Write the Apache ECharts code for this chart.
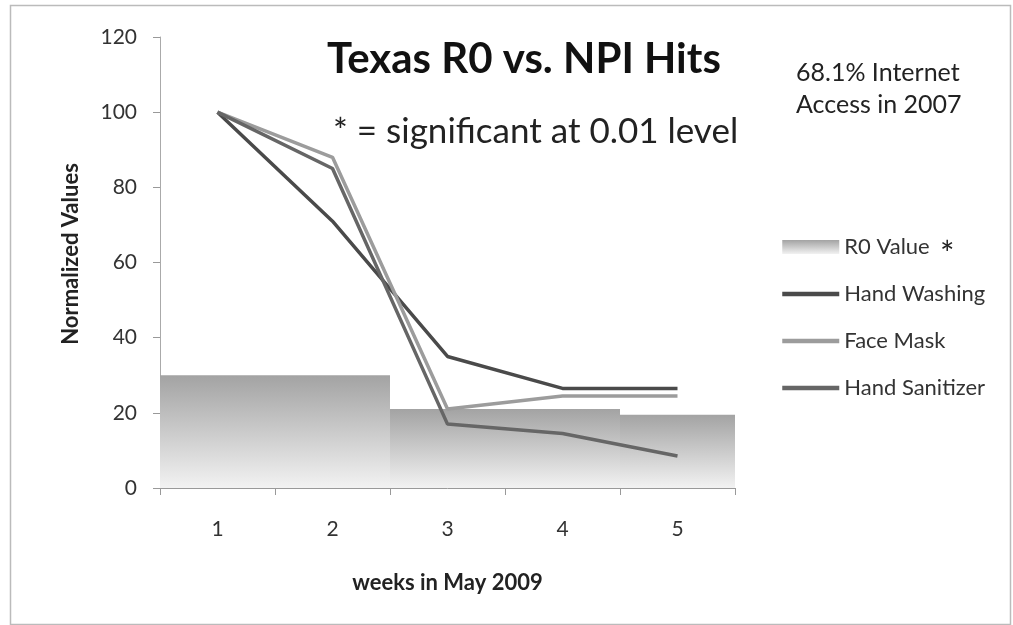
<!DOCTYPE html>
<html>
<head>
<meta charset="utf-8">
<script src="https://cdn.jsdelivr.net/npm/echarts@6/dist/echarts.min.js"></script>
<style>
  html, body { margin: 0; padding: 0; background: #fff; }
  #main { width: 1013px; height: 625px; }
</style>
</head>
<body>
<div id="main"></div>
<script>
var weeks = ['1', '2', '3', '4', '5'];
var r0Value = [30, 30, 21, 21, 19.5];
var handWashing = [100, 71, 35, 26.5, 26.5];
var faceMask = [100, 88, 21, 24.5, 24.5];
var handSanitizer = [100, 85, 17, 14.5, 8.5];
var yTicks = [0, 120, 20];

var font = 'Lato';
var chart = echarts.init(document.getElementById('main'));

var barFill = new echarts.graphic.LinearGradient(0, 0, 0, 1, [
  { offset: 0, color: '#a3a3a3' },
  { offset: 1, color: '#f2f2f2' }
]);

function lineSeries(name, data, color) {
  return {
    name: name,
    type: 'line',
    data: data,
    symbol: 'none',
    lineStyle: { color: color, width: 3.5 },
    itemStyle: { color: color },
    z: 3
  };
}

// legend line items: hide the circle that line series put in their icon
function lineItem(name) {
  return { name: name, itemStyle: { opacity: 0 }, lineStyle: { width: 4.5 } };
}

option = {
  animation: false,
  textStyle: { fontFamily: font },
  title: {
    text: 'Texas R0 vs. NPI Hits',
    left: 322,
    top: 33,
    textStyle: { fontSize: 42, fontWeight: 'bold', color: '#111', fontFamily: font }
  },
  grid: { left: 160, right: 278, top: 37, bottom: 137 },
  legend: {
    orient: 'vertical',
    left: 775,
    top: 231,
    itemGap: 25,
    itemWidth: 57,
    itemHeight: 14,
    textStyle: { fontSize: 22, color: '#333', fontFamily: font },
    data: [
      { name: 'R0 Value', icon: 'rect', itemStyle: { color: barFill } },
      lineItem('Hand Washing'),
      lineItem('Face Mask'),
      lineItem('Hand Sanitizer')
    ]
  },
  xAxis: {
    type: 'category',
    data: weeks,
    boundaryGap: true,
    name: 'weeks in May 2009',
    nameLocation: 'middle',
    nameGap: 84,
    nameTextStyle: { fontSize: 22, fontWeight: 'bold', color: '#222', fontFamily: font },
    axisLine: { lineStyle: { color: '#999' } },
    axisTick: { show: true, length: 7, lineStyle: { color: '#999' } },
    axisLabel: { fontSize: 21, color: '#333', margin: 31 }
  },
  yAxis: {
    type: 'value',
    min: yTicks[0],
    max: yTicks[1],
    interval: yTicks[2],
    axisLine: { show: true, lineStyle: { color: '#aaa' } },
    axisTick: { show: true, length: 7, lineStyle: { color: '#999' } },
    splitLine: { show: false },
    axisLabel: { fontSize: 21, color: '#333', margin: 23 }
  },
  graphic: [
    {
      type: 'rect',
      left: 8, top: 3,
      shape: { width: 1000, height: 619 },
      style: { fill: 'none', stroke: '#bbb', lineWidth: 1.5 },
      silent: true
    },
    {
      type: 'text',
      left: 333, top: 114,
      style: { text: '* = significant at 0.01 level', fontSize: 35, fill: '#222', fontFamily: font }
    },
    {
      type: 'text',
      left: 796, top: 57,
      style: { text: '68.1% Internet\nAccess in 2007', fontSize: 25, lineHeight: 32, fill: '#222', fontFamily: font }
    },
    {
      type: 'text',
      left: 940, top: 238,
      style: { text: '*', fontSize: 34, fill: '#222', fontFamily: font }
    },
    {
      type: 'text',
      x: 71, y: 254,
      rotation: Math.PI / 2,
      style: {
        text: 'Normalized Values', fontSize: 22, fontWeight: 'bold', fill: '#222',
        fontFamily: font, align: 'center', verticalAlign: 'middle'
      }
    }
  ],
  series: [
    {
      name: 'R0 Value',
      type: 'bar',
      data: r0Value,
      barCategoryGap: '0%',
      itemStyle: { color: barFill },
      z: 1
    },
    lineSeries('Hand Washing', handWashing, '#4a4a4a'),
    lineSeries('Face Mask', faceMask, '#9c9c9c'),
    lineSeries('Hand Sanitizer', handSanitizer, '#666666')
  ]
};

chart.setOption(option);
</script>
</body>
</html>
